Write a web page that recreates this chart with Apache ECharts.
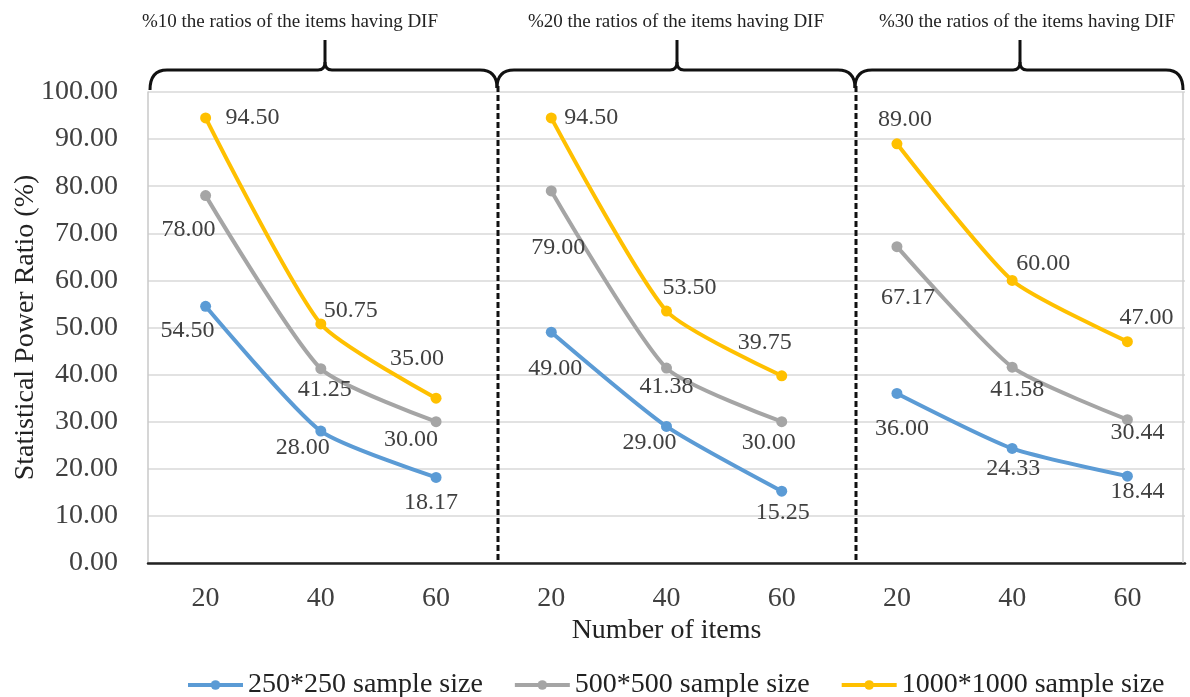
<!DOCTYPE html>
<html>
<head>
<meta charset="utf-8">
<script src="https://cdn.jsdelivr.net/npm/echarts@6/dist/echarts.min.js"></script>
<style>
html,body{margin:0;padding:0;background:#fff;}
#chart{width:1190px;height:697px;}
</style>
</head>
<body>
<div id="chart"></div>
<script>
// ---- data ----
const itemCounts = ['20', '40', '60'];
const groupTitles = [
  '%10 the ratios of the items having DIF',
  '%20 the ratios of the items having DIF',
  '%30 the ratios of the items having DIF'
];
const seriesNames = ['250*250 sample size', '500*500 sample size', '1000*1000 sample size'];
const s250  = [54.50, 28.00, 18.17, 49.00, 29.00, 15.25, 36.00, 24.33, 18.44];
const s500  = [78.00, 41.25, 30.00, 79.00, 41.38, 30.00, 67.17, 41.58, 30.44];
const s1000 = [94.50, 50.75, 35.00, 94.50, 53.50, 39.75, 89.00, 60.00, 47.00];
const yTicks = [0, 100, 10];

// ---- label placement (layout only) ----
const offs250  = [[-18,24],[-18,17],[-5,25],[4,36],[-17,16],[1,22],[5,35],[1,20],[10,16]];
const offs500  = [[-17,34],[4,21],[-25,18],[7,57],[0,19],[-13,21],[11,51],[5,23],[10,13]];
const offs1000 = [[47,0],[30,-13],[-19,-39],[40,0],[23,-23],[-17,-33],[8,-24],[31,-17],[19,-24]];

const colors = ['#5B9BD5', '#A5A5A5', '#FFC000'];
const FONT = "'Liberation Serif','Times New Roman',serif";
const TXT = '#404040';

const categories = [];
groupTitles.forEach(() => itemCounts.forEach(c => categories.push(c)));

const allVals = [s250, s500, s1000];
const allOffs = [offs250, offs500, offs1000];
const series = [];
allVals.forEach((vals, si) => {
  for (let g = 0; g < groupTitles.length; g++) {
    const data = [];
    for (let i = 0; i < itemCounts.length; i++) {
      const idx = g * itemCounts.length + i;
      data.push({
        value: [idx, vals[idx]],
        label: { offset: allOffs[si][idx] }
      });
    }
    series.push({
      name: seriesNames[si],
      type: 'line',
      smooth: 0.2,
      data: data,
      symbol: 'circle',
      symbolSize: 11,
      z: 2 + si,
      lineStyle: { width: 4, color: colors[si] },
      itemStyle: { color: colors[si] },
      label: {
        show: true,
        position: 'inside',
        formatter: p => p.value[1].toFixed(2),
        fontFamily: FONT,
        fontSize: 24,
        color: TXT
      }
    });
  }
});

// ---- decorative brackets (layout only) ----
const deco = [];
const STROKE = { stroke: '#111', lineWidth: 3, fill: null };
function seg(x1, y1, x2, y2) {
  deco.push({ type: 'line', shape: { x1, y1, x2, y2 }, style: Object.assign({}, STROKE), z: 10 });
}
function crv(x1, y1, cx, cy, x2, y2) {
  deco.push({ type: 'bezierCurve', shape: { x1, y1, x2, y2, cpx1: cx, cpy1: cy }, style: Object.assign({}, STROKE), z: 10 });
}
function bracket(xl, xm, xr, ylEnd, yrEnd) {
  crv(xl, ylEnd, xl, 70, xl + 17, 70);
  seg(xl + 17, 70, xm - 7, 70);
  crv(xm - 7, 70, xm, 70, xm, 62);
  seg(xm, 62, xm, 40);
  crv(xm, 62, xm, 70, xm + 7, 70);
  seg(xm + 7, 70, xr - 17, 70);
  crv(xr - 17, 70, xr, 70, xr, yrEnd);
}
bracket(150, 325, 497, 90, 88);
bracket(497, 677, 855, 88, 88);
bracket(855, 1020, 1183, 88, 90);

const headerX = [290, 676, 1027];

const chart = echarts.init(document.getElementById('chart'));
chart.setOption({
  backgroundColor: '#fff',
  animation: false,
  grid: { left: 148, right: 5, top: 92, bottom: 134, containLabel: false, outerBoundsMode: 'none' },
  xAxis: {
    type: 'category',
    data: categories,
    boundaryGap: true,
    name: 'Number of items',
    nameLocation: 'middle',
    nameGap: 54,
    nameMoveOverlap: false,
    nameTextStyle: { fontFamily: FONT, fontSize: 28, color: '#222' },
    axisLine: { lineStyle: { color: '#222', width: 2.5 } },
    axisTick: { show: false },
    axisLabel: { fontFamily: FONT, fontSize: 28, color: TXT, margin: 22 },
    splitLine: { show: false }
  },
  yAxis: {
    type: 'value',
    min: yTicks[0], max: yTicks[1], interval: yTicks[2],
    name: 'Statistical Power Ratio (%)',
    nameLocation: 'middle',
    nameRotate: 90,
    nameGap: 108,
    nameMoveOverlap: false,
    nameTextStyle: { fontFamily: FONT, fontSize: 28, color: '#222' },
    axisLine: { show: true, lineStyle: { color: '#c8c8c8', width: 1.5 } },
    axisTick: { show: false },
    axisLabel: { fontFamily: FONT, fontSize: 28, color: TXT, margin: 30, formatter: v => v.toFixed(2) },
    splitLine: { lineStyle: { color: '#d9d9d9', width: 1.5 } }
  },
  legend: {
    data: seriesNames,
    left: 186,
    top: 671,
    padding: 0,
    itemWidth: 55,
    itemHeight: 12,
    itemGap: 30,
    lineStyle: { width: 4 },
    textStyle: { fontFamily: FONT, fontSize: 28, color: '#222' }
  },
  series: series,
  graphic: [
    { type: 'line', shape: { x1: 1183, y1: 92, x2: 1183, y2: 563 }, style: { stroke: '#d0d0d0', lineWidth: 1.5 }, z: 1 },
    { type: 'line', shape: { x1: 498, y1: 86, x2: 498, y2: 563 }, style: { stroke: '#111', lineWidth: 3, lineDash: [6, 3] }, z: 10 },
    { type: 'line', shape: { x1: 856, y1: 86, x2: 856, y2: 563 }, style: { stroke: '#111', lineWidth: 3, lineDash: [6, 3] }, z: 10 }
  ].concat(deco).concat(groupTitles.map((t, i) => ({
    type: 'text',
    x: headerX[i], y: 22,
    style: { text: t, fontFamily: FONT, fontSize: 19, fill: '#222', align: 'center', verticalAlign: 'middle' },
    z: 10
  })))
});
</script>
</body>
</html>
